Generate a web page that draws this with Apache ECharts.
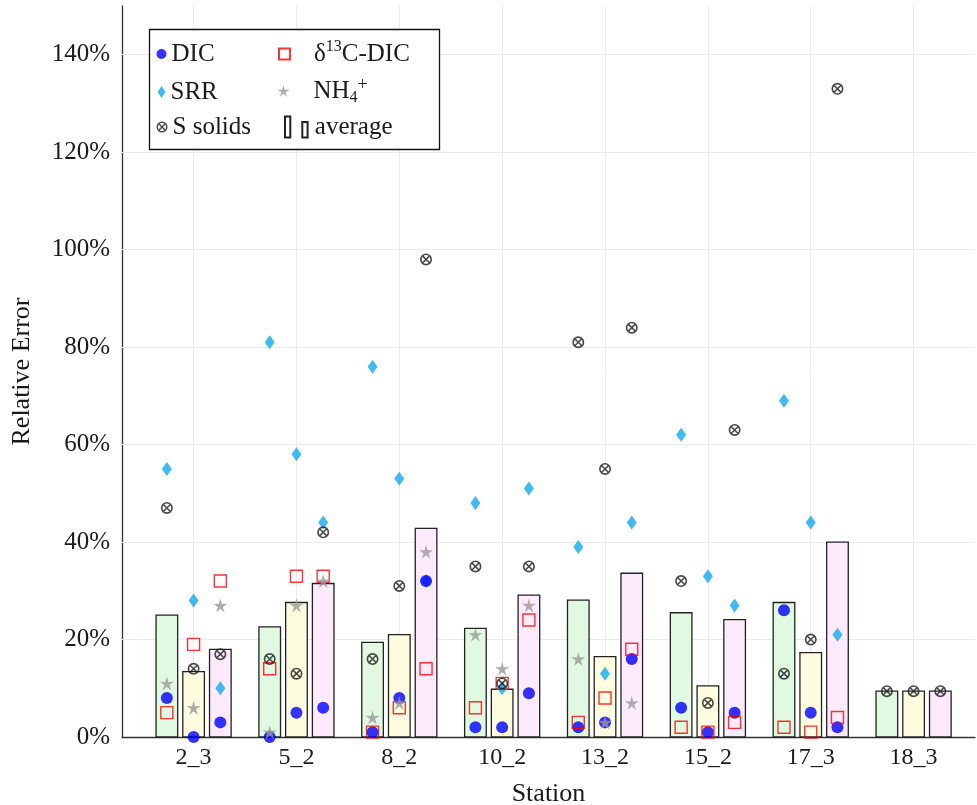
<!DOCTYPE html>
<html>
<head>
<meta charset="utf-8">
<script src="https://cdn.jsdelivr.net/npm/echarts@6/dist/echarts.min.js"></script>
<style>html,body{margin:0;padding:0;background:#fff}#c{width:977px;height:805px}</style>
</head>
<body>
<div id="c"></div>
<script>
// ---- data (per station: [green, yellow, pink] sub-positions) ----
const stations = ['2_3', '5_2', '8_2', '10_2', '13_2', '15_2', '17_3', '18_3'];
const yTicks = [0, 20, 40, 60, 80, 100, 120, 140];
const DIC   = [[8, 0, 3], [0, 5, 6], [1, 8, 32], [2, 2, 9], [2, 3, 16], [6, 1, 5], [26, 5, 2], [null, null, null]];
const D13C  = [[5, 19, 32], [14, 33, 33], [1, 6, 14], [6, 11, 24], [3, 8, 18], [2, 1, 3], [2, 1, 4], [null, null, null]];
const SRR   = [[55, 28, 10], [81, 58, 44], [76, 53, 32], [48, 10, 51], [39, 13, 44], [62, 33, 27], [69, 44, 21], [null, null, null]];
const NH4   = [[11, 6, 27], [1, 27, 32], [4, 7, 38], [21, 14, 27], [16, 3, 7], [null, null, null], [null, null, null], [null, null, null]];
const SSOL  = [[47, 14, 17], [16, 13, 42], [16, 31, 98], [35, 11, 35], [81, 55, 84], [32, 7, 63], [13, 20, 133], [9.4, 9.4, 9.4]];
const avgGreen  = [25.0, 22.6, 19.4, 22.3, 28.1, 25.5, 27.6, 9.4];
const avgYellow = [13.4, 27.6, 21.0, 9.8, 16.5, 10.5, 17.3, 9.4];
const avgPink   = [18.0, 31.5, 42.8, 29.1, 33.6, 24.1, 40.0, 9.4];

// ---- layout / style ----
const OFF = [-0.26, 0, 0.26];
const HALF = 0.105;
const FONT = 'Liberation Serif';
const TXT = '#1a1a1a';
const STAR = 'path://M12 2 L14.06 9.17 L21.51 8.91 L15.33 13.08 L17.88 20.09 L12 15.5 L6.12 20.09 L8.67 13.08 L2.49 8.91 L9.94 9.17 Z';
const OTIMES = 'path://M1 12 A11 11 0 1 1 23 12 A11 11 0 1 1 1 12 Z M4 12 A8 8 0 1 0 20 12 A8 8 0 1 0 4 12 Z ' +
  'M5 7 L7 5 L19 17 L17 19 Z M17 5 L19 7 L7 19 L5 17 Z';
const AVGICON = 'path://M0 0 L5.3 0 L5.3 21 L0 21 Z M17.3 5.6 L22.6 5.6 L22.6 21 L17.3 21 Z';

function pts(arr) {
  const out = [];
  arr.forEach((trip, i) => trip.forEach((v, k) => { if (v != null) out.push([i + OFF[k], v]); }));
  return out;
}
function barData(arr, k) { return arr.map((v, i) => [i + OFF[k], v]); }
function barSeries(arr, k, fill) {
  return {
    type: 'custom', name: 'average', z: 10,
    data: barData(arr, k),
    renderItem: function (params, api) {
      const x = api.value(0), y = api.value(1);
      const p0 = api.coord([x - HALF, y]);
      const p1 = api.coord([x + HALF, 0]);
      return {
        type: 'rect',
        shape: { x: p0[0], y: p0[1], width: p1[0] - p0[0], height: p1[1] - p0[1] },
        style: { fill: fill, stroke: '#222', lineWidth: 1.3 }
      };
    },
    itemStyle: { color: '#fff', borderColor: '#222', borderWidth: 1.2 }
  };
}

const gridLines = stations.map((s, i) => ({ xAxis: i })).concat(yTicks.filter(v => v > 0).map(v => ({ yAxis: v })));

const LFS = 25;
const textBase = { fontFamily: FONT, fontSize: LFS, color: TXT, lineHeight: 30 };
function legendAt(name, left, top, w, h, icon, padLeft, extra) {
  return Object.assign({
    z: 10, padding: 0, selectedMode: false, left: left, top: top,
    itemWidth: w, itemHeight: h, icon: icon,
    data: [name],
    textStyle: Object.assign({}, textBase, { padding: [0, 0, 0, padLeft] })
  }, extra || {});
}

const option = {
  animation: false,
  backgroundColor: '#fff',
  grid: { left: 122, right: 2, top: 6, bottom: 68, containLabel: false, outerBoundsMode: 'none' },
  xAxis: {
    type: 'value', min: -0.696, max: 7.597,
    axisLine: { show: true, onZero: false, lineStyle: { color: '#333', width: 1.3 } },
    axisTick: { show: false },
    splitLine: { show: false },
    axisLabel: {
      customValues: stations.map((s, i) => i),
      formatter: v => stations[Math.round(v)],
      fontFamily: FONT, fontSize: 24, color: TXT, margin: 9
    },
    name: 'Station', nameLocation: 'middle', nameGap: 44,
    nameTextStyle: { fontFamily: FONT, fontSize: 26, color: TXT }
  },
  yAxis: {
    type: 'value', min: 0, max: 150,
    axisLine: { show: true, onZero: false, lineStyle: { color: '#333', width: 1.3 } },
    axisTick: { show: true, inside: true, length: 6, customValues: yTicks, lineStyle: { color: '#333', width: 1 } },
    axisLabel: {
      customValues: yTicks, formatter: v => v + '%',
      fontFamily: FONT, fontSize: 25, color: TXT, margin: 12
    },
    splitLine: { show: false },
    name: 'Relative Error', nameLocation: 'middle', nameGap: 87, nameRotate: 90,
    nameTextStyle: { fontFamily: FONT, fontSize: 26, color: TXT }
  },
  graphic: [{
    type: 'rect', z: 8, silent: true,
    shape: { x: 149.5, y: 29.5, width: 290, height: 120 },
    style: { fill: '#fff', stroke: '#111', lineWidth: 1.3 }
  }],
  legend: [
    legendAt('DIC', 156.5, 39, 10, 10, 'circle', 0),
    legendAt('SRR', 157.5, 77, 8, 12, 'diamond', 0),
    legendAt('S solids', 156.5, 112, 11, 11, OTIMES, 0),
    legendAt('δ13C-DIC', 278, 39, 11, 11, 'rect', 19, {
      formatter: () => '{a|δ}{sup|13}{a|C-DIC}',
      textStyle: Object.assign({}, textBase, {
        padding: [0, 0, 0, 19],
        rich: {
          a: { fontFamily: FONT, fontSize: LFS, color: TXT, lineHeight: 30 },
          sup: { fontFamily: FONT, fontSize: 16, color: TXT, lineHeight: 16, verticalAlign: 'top' }
        }
      })
    }),
    legendAt('NH4+', 277.5, 76, 12, 12, STAR, 19, {
      formatter: () => '{a|NH}{sub|4}{sup|+}',
      textStyle: Object.assign({}, textBase, {
        padding: [0, 0, 0, 19],
        rich: {
          a: { fontFamily: FONT, fontSize: LFS, color: TXT, lineHeight: 30 },
          sub: { fontFamily: FONT, fontSize: 16, color: TXT, lineHeight: 16, verticalAlign: 'bottom' },
          sup: { fontFamily: FONT, fontSize: 18, color: TXT, lineHeight: 16, verticalAlign: 'top' }
        }
      })
    }),
    legendAt('average', 284, 112, 23, 21, AVGICON, 2)
  ],
  series: [
    barSeries(avgGreen, 0, '#e0f9e0'),
    barSeries(avgYellow, 1, '#fffde0'),
    barSeries(avgPink, 2, '#fdeafd'),
    {
      type: 'scatter', name: 'SRR', z: 20, symbol: 'diamond', symbolSize: [10, 14],
      itemStyle: { color: '#10aaee' }, data: pts(SRR),
      markLine: {
        silent: true, symbol: 'none', z: 1, animation: false,
        label: { show: false },
        lineStyle: { color: '#ececec', type: 'solid', width: 1 },
        emphasis: { disabled: true },
        data: gridLines
      }
    },
    {
      type: 'scatter', name: 'DIC', z: 21, symbol: 'circle', symbolSize: 12,
      itemStyle: { color: '#0000ff' }, data: pts(DIC)
    },
    {
      type: 'scatter', name: 'δ13C-DIC', z: 22, symbol: 'rect', symbolSize: 12,
      itemStyle: { color: 'rgba(0,0,0,0)', borderColor: '#ff0000', borderWidth: 1.4 }, data: pts(D13C)
    },
    {
      type: 'scatter', name: 'NH4+', z: 23, symbol: STAR, symbolSize: 14,
      itemStyle: { color: '#999' }, data: pts(NH4)
    },
    {
      type: 'scatter', name: 'S solids', z: 24, symbol: OTIMES, symbolSize: 12,
      itemStyle: { color: '#1a1a1a' }, data: pts(SSOL)
    }
  ]
};

const chart = echarts.init(document.getElementById('c'), null, { renderer: 'canvas' });
chart.setOption(option);
</script>
</body>
</html>
